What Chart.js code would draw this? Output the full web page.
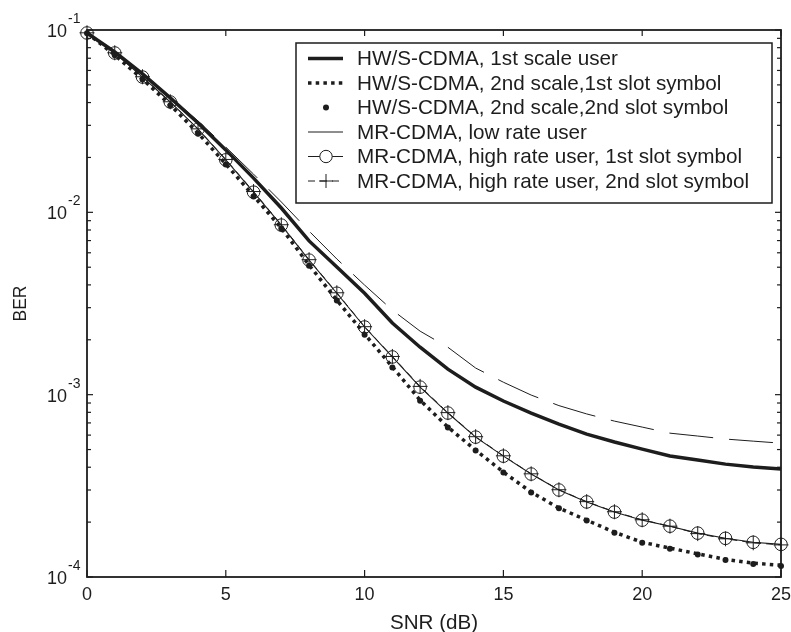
<!DOCTYPE html>
<html>
<head>
<meta charset="utf-8">
<script src="https://cdn.jsdelivr.net/npm/chart.js@4.4.0/dist/chart.umd.min.js"></script>
<style>
  html, body { margin: 0; padding: 0; background: #fff; }
  #wrap { width: 791px; height: 632px; position: relative; }
</style>
</head>
<body>
<div id="wrap"><canvas id="ber"></canvas></div>
<script>
// SNR in dB (one simulated point per dB)
const snr = [0, 1, 2, 3, 4, 5, 6, 7, 8, 9, 10, 11, 12, 13, 14, 15, 16, 17, 18, 19, 20, 21, 22, 23, 24, 25];

// BER curves
const hwFirstScale = [0.0963, 0.0758, 0.0574, 0.0424, 0.0309, 0.0220, 0.0154, 0.01056, 0.00697, 0.00501,
  0.00360, 0.00247, 0.00182, 0.00138, 0.00110, 0.000923, 0.000793, 0.000690, 0.000608, 0.000550,
  0.000503, 0.000461, 0.000438, 0.000416, 0.000401, 0.000391];
const hwSecondSlot1 = [0.0963, 0.0729, 0.0538, 0.0388, 0.0272, 0.0184, 0.0123, 0.00820, 0.00514, 0.00330,
  0.00215, 0.00142, 0.000933, 0.000664, 0.000496, 0.000376, 0.000292, 0.000239, 0.000205, 0.000176,
  0.000155, 0.000144, 0.000134, 0.000125, 0.000119, 0.000116];
const hwSecondSlot2 = [0.0960, 0.0727, 0.0536, 0.0386, 0.0270, 0.0183, 0.0122, 0.00815, 0.00510, 0.00328,
  0.00213, 0.00141, 0.000925, 0.000660, 0.000494, 0.000374, 0.000291, 0.000238, 0.000204, 0.000175,
  0.000154, 0.000143, 0.000133, 0.000124, 0.000118, 0.000115];
const mrLowRate = [0.0963, 0.0758, 0.0574, 0.0428, 0.0317, 0.0228, 0.0162, 0.0114, 0.00789, 0.00555,
  0.00399, 0.00291, 0.00223, 0.00182, 0.00140, 0.00117, 0.000995, 0.000871, 0.000784, 0.000716,
  0.000664, 0.000615, 0.000593, 0.000571, 0.000556, 0.000542];
const mrHighSlot1 = [0.0963, 0.0748, 0.0552, 0.0403, 0.0286, 0.0194, 0.0129, 0.00851, 0.00547, 0.00360,
  0.00235, 0.00161, 0.00110, 0.000793, 0.000585, 0.000460, 0.000367, 0.000300, 0.000258, 0.000227,
  0.000205, 0.000190, 0.000174, 0.000163, 0.000155, 0.000151];
const mrHighSlot2 = [0.0965, 0.0750, 0.0554, 0.0404, 0.0287, 0.0195, 0.0130, 0.00855, 0.00550, 0.00362,
  0.00236, 0.00162, 0.00111, 0.000797, 0.000588, 0.000462, 0.000368, 0.000301, 0.000259, 0.000228,
  0.000206, 0.000190, 0.000173, 0.000162, 0.000154, 0.000150];

const xTicks = [0, 5, 10, 15, 20, 25];
const yExponents = [-1, -2, -3, -4];
const seriesNames = [
  "HW/S-CDMA, 1st scale user",
  "HW/S-CDMA, 2nd scale,1st slot symbol",
  "HW/S-CDMA, 2nd scale,2nd slot symbol",
  "MR-CDMA, low rate user",
  "MR-CDMA, high rate user, 1st slot symbol",
  "MR-CDMA, high rate user, 2nd slot symbol"
];

const INK = "#1d1d1d";
const FONT = '"Liberation Sans", Arial, Helvetica, sans-serif';
const pts = arr => snr.map((x, i) => ({ x, y: arr[i] }));

// axes box, inward ticks, labels with superscripts, titles
const matlabAxes = {
  id: "matlabAxes",
  afterDatasetsDraw(chart) {
    const { ctx, chartArea: a, scales: { x, y } } = chart;
    const seg = (x1, y1, x2, y2) => { ctx.beginPath(); ctx.moveTo(x1, y1); ctx.lineTo(x2, y2); ctx.stroke(); };
    ctx.save();
    ctx.strokeStyle = INK;
    ctx.fillStyle = INK;
    ctx.lineWidth = 1.8;
    ctx.strokeRect(a.left, a.top, a.right - a.left, a.bottom - a.top);

    ctx.lineWidth = 1.2;
    ctx.font = "18px " + FONT;
    ctx.textAlign = "center";
    xTicks.forEach(v => {
      const px = x.getPixelForValue(v);
      seg(px, a.bottom, px, a.bottom - 7);
      seg(px, a.top, px, a.top + 6);
      ctx.fillText(String(v), px, a.bottom + 23);
    });

    yExponents.forEach(e => {
      const py = y.getPixelForValue(Math.pow(10, e));
      seg(a.left, py, a.left + 6, py);
      seg(a.right, py, a.right - 6, py);
      if (e > -4) {
        for (let m = 2; m <= 9; m++) {
          const pm = y.getPixelForValue(m * Math.pow(10, e - 1));
          seg(a.left, pm, a.left + 4, pm);
          seg(a.right, pm, a.right - 4, pm);
        }
      }
      ctx.textAlign = "right";
      ctx.font = "18px " + FONT;
      ctx.fillText("10", a.left - 20, py + 7);
      ctx.textAlign = "left";
      ctx.font = "14px " + FONT;
      ctx.fillText(String(e), a.left - 19, py - 7);
    });

    ctx.textAlign = "center";
    ctx.font = "20.6px " + FONT;
    ctx.fillText("SNR (dB)", (a.left + a.right) / 2, 629);
    ctx.save();
    ctx.translate(21, (a.top + a.bottom) / 2);
    ctx.rotate(-Math.PI / 2);
    ctx.font = "17.5px " + FONT;
    ctx.textBaseline = "middle";
    ctx.fillText("BER", 0, 0);
    ctx.restore();
    ctx.restore();
  }
};

// boxed legend in the upper right, drawn like the MATLAB one
const boxLegend = {
  id: "boxLegend",
  afterDraw(chart) {
    const { ctx } = chart;
    const left = 296, top = 43, right = 772, bottom = 203;
    const x1 = 308, x2 = 343, xm = 326, tx = 357;
    const rows = [58.5, 83, 107.5, 132, 156.5, 181];
    ctx.save();
    ctx.fillStyle = "#fff";
    ctx.fillRect(left, top, right - left, bottom - top);
    ctx.strokeStyle = INK;
    ctx.lineWidth = 1.5;
    ctx.strokeRect(left, top, right - left, bottom - top);

    const sample = (yy, width, dash) => {
      ctx.beginPath();
      ctx.lineWidth = width;
      ctx.setLineDash(dash);
      ctx.moveTo(x1, yy); ctx.lineTo(x2, yy); ctx.stroke();
      ctx.setLineDash([]);
    };
    sample(rows[0], 3.5, []);
    sample(rows[1], 3.5, [3.5, 4.2]);
    ctx.fillStyle = INK;
    ctx.beginPath(); ctx.arc(xm, rows[2], 3, 0, Math.PI * 2); ctx.fill();
    sample(rows[3], 1, []);
    sample(rows[4], 1, []);
    ctx.fillStyle = "#fff";
    ctx.beginPath(); ctx.arc(xm, rows[4], 6.2, 0, Math.PI * 2); ctx.fill();
    ctx.lineWidth = 1; ctx.stroke();
    sample(rows[5], 1, [7, 5]);
    ctx.beginPath();
    ctx.moveTo(xm - 7, rows[5]); ctx.lineTo(xm + 7, rows[5]);
    ctx.moveTo(xm, rows[5] - 7); ctx.lineTo(xm, rows[5] + 7);
    ctx.stroke();

    ctx.fillStyle = INK;
    ctx.font = "20.7px " + FONT;
    ctx.textAlign = "left";
    ctx.textBaseline = "middle";
    seriesNames.forEach((name, i) => ctx.fillText(name, tx, rows[i] + 1));
    ctx.restore();
  }
};

new Chart(document.getElementById("ber"), {
  type: "line",
  data: {
    datasets: [
      { label: seriesNames[0], data: pts(hwFirstScale), borderColor: INK, borderWidth: 3.5, pointRadius: 0 },
      { label: seriesNames[1], data: pts(hwSecondSlot1), borderColor: INK, borderWidth: 3.5, borderDash: [3.5, 4.2], borderCapStyle: "butt", pointRadius: 0 },
      { label: seriesNames[2], data: pts(hwSecondSlot2), showLine: false, pointRadius: 3, pointBackgroundColor: INK, pointBorderWidth: 0 },
      { label: seriesNames[3], data: pts(mrLowRate), borderColor: INK, borderWidth: 1, borderDash: [44, 16], pointRadius: 0 },
      { label: seriesNames[4], data: pts(mrHighSlot1), borderColor: INK, borderWidth: 1.1, pointStyle: "circle", pointRadius: 6.3, pointBorderColor: INK, pointBackgroundColor: "rgba(0,0,0,0)", pointBorderWidth: 1 },
      { label: seriesNames[5], data: pts(mrHighSlot2), borderColor: INK, borderWidth: 1, borderDash: [7, 5], pointStyle: "cross", pointRadius: 7.5, pointBorderColor: INK, pointBorderWidth: 1 }
    ]
  },
  options: {
    responsive: true,
    maintainAspectRatio: false,
    animation: false,
    events: [],
    layout: { padding: { left: 87, top: 30, right: 10, bottom: 55 } },
    elements: { line: { tension: 0 } },
    datasets: { line: { clip: false } },
    scales: {
      x: { type: "linear", min: 0, max: 25, display: false },
      y: { type: "logarithmic", min: 1e-4, max: 1e-1, display: false }
    },
    plugins: { legend: { display: false }, tooltip: { enabled: false } }
  },
  plugins: [matlabAxes, boxLegend]
});
</script>
</body>
</html>
